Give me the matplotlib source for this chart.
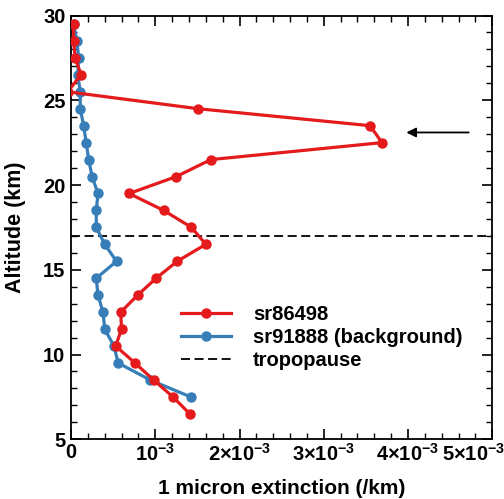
import numpy as np
import matplotlib
matplotlib.use("Agg")
from matplotlib import pyplot as plt
from matplotlib.ticker import MultipleLocator
from matplotlib.transforms import ScaledTranslation

plt.rcParams['font.family'] = ['Liberation Sans', 'DejaVu Sans']
plt.rcParams['font.weight'] = 'bold'
plt.rcParams['mathtext.fontset'] = 'custom'
plt.rcParams['mathtext.rm'] = 'Liberation Sans:bold'
plt.rcParams['mathtext.bf'] = 'Liberation Sans:bold'
plt.rcParams['mathtext.default'] = 'rm'

# altitudes (km)
alt_red = [29.5, 28.5, 27.5, 26.5, 25.5, 24.5, 23.5, 22.5, 21.5, 20.5, 19.5, 18.5,
           17.5, 16.5, 15.5, 14.5, 13.5, 12.5, 11.5, 10.5, 9.5, 8.5, 7.5, 6.5]
ext_red = [0.03, 0.03, 0.05, 0.12, -0.04, 1.51, 3.55, 3.69, 1.66, 1.25, 0.69, 1.10,
           1.43, 1.60, 1.26, 1.01, 0.79, 0.59, 0.60, 0.53, 0.76, 0.98, 1.21, 1.41]

alt_blue = [29.5, 28.5, 27.5, 26.5, 25.5, 24.5, 23.5, 22.5, 21.5, 20.5, 19.5, 18.5,
            17.5, 16.5, 15.5, 14.5, 13.5, 12.5, 11.5, 10.5, 9.5, 8.5, 7.5]
ext_blue = [0.03, 0.07, 0.09, 0.08, 0.11, 0.11, 0.15, 0.18, 0.21, 0.25, 0.32, 0.30,
            0.30, 0.40, 0.54, 0.30, 0.32, 0.38, 0.40, 0.51, 0.56, 0.94, 1.42]

tropopause = 17.0
arrow_alt = 23.1
arrow_x = [4.72, 3.98]  # start, head (1e-3 /km)

ext_red = np.array(ext_red) * 1e-3
ext_blue = np.array(ext_blue) * 1e-3

red = '#e41a1c'
blue = '#377eb8'

fig = plt.figure(figsize=(5.04, 4.99), dpi=100)
ax = fig.add_axes([71 / 504, 1 - 439.3 / 499, (492.3 - 71) / 504, (439.3 - 15.5) / 499])

lb, = ax.plot(ext_blue, alt_blue, '-o', color=blue, lw=2.3, ms=6.5, zorder=3,
              label='sr91888 (background)')
lr, = ax.plot(ext_red, alt_red, '-o', color=red, lw=2.3, ms=6.5, zorder=4,
              label='sr86498')
lt = ax.axhline(tropopause, color='black', lw=1.3, ls=(0, (5, 2.5)), zorder=2,
                label='tropopause')

ax.annotate('', xy=(arrow_x[1] * 1e-3, arrow_alt), xytext=(arrow_x[0] * 1e-3, arrow_alt),
            arrowprops=dict(arrowstyle='-|>', color='black', lw=1.3,
                            mutation_scale=14, shrinkA=0, shrinkB=0))

ax.set_xlim(0, 5e-3)
ax.set_ylim(5, 30)

xt = [0, 1e-3, 2e-3, 3e-3, 4e-3, 5e-3]
xlabels = ['0', r'$10^{-3}$', r'$2{\times}10^{-3}$', r'$3{\times}10^{-3}$',
           r'$4{\times}10^{-3}$', r'$5{\times}10^{-3}$']
ax.set_xticks(xt)
ax.set_xticklabels(xlabels)
ax.xaxis.set_minor_locator(MultipleLocator(0.2e-3))
ax.yaxis.set_major_locator(MultipleLocator(5))
ax.yaxis.set_minor_locator(MultipleLocator(1))

ax.tick_params(which='both', direction='in', top=True, right=True, labelsize=14.5)
ax.tick_params(axis='x', pad=2.5)
ax.tick_params(axis='y', pad=4)
ax.tick_params(which='major', length=7, width=1.2)
ax.tick_params(which='minor', length=4, width=1)
for lab in ax.get_xticklabels() + ax.get_yticklabels():
    lab.set_fontweight('bold')

# last x tick label sits pulled in from the right edge, as in the original
last = ax.get_xticklabels()[-1]
last.set_transform(last.get_transform() + ScaledTranslation(-0.19, 0, fig.dpi_scale_trans))

for s in ax.spines.values():
    s.set_linewidth(1.3)

ax.set_xlabel('1 micron extinction (/km)', fontsize=15, fontweight='bold', labelpad=10)
ax.set_ylabel('Altitude (km)', fontsize=15.5, fontweight='bold', labelpad=12)

leg = ax.legend(handles=[lr, lb, lt], loc='upper left', bbox_to_anchor=(0.217, 0.36),
                frameon=False, fontsize=14.5, handlelength=2.5, handletextpad=1.1,
                labelspacing=0.2)
for t in leg.get_texts():
    t.set_fontweight('bold')

fig.savefig('out.png', dpi=100)
